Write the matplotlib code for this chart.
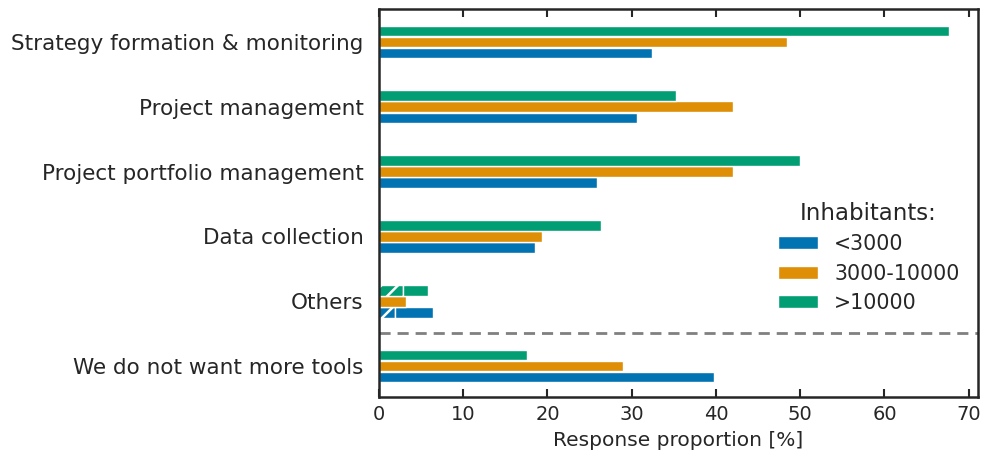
import matplotlib
matplotlib.use("Agg")
import matplotlib.pyplot as plt
import numpy as np

categories = ["Strategy formation & monitoring", "Project management",
              "Project portfolio management", "Data collection", "Others",
              "We do not want more tools"]
groups = ["<3000", "3000-10000", ">10000"]
small = [32.4, 30.6, 25.9, 18.5, 6.4, 39.8]
medium = [48.4, 42.0, 42.0, 19.3, 3.2, 29.0]
large = [67.7, 35.3, 50.0, 26.4, 5.8, 17.6]
# hatched share inside "Others"
others_hatched = [1.9, 0.0, 2.9]

colors = ["#0173b2", "#de8f05", "#029e73"]
text_color = "#262626"

plt.rcParams["font.family"] = ["DejaVu Sans"]
plt.rcParams["hatch.linewidth"] = 1.8

fig = plt.figure(figsize=(9.82, 4.55), dpi=100)
ax = fig.add_axes([379/982, 1-397/455, (978-379)/982, (397-9)/455])

n = len(categories)
ypos = np.arange(n)[::-1].astype(float)
h = 0.165
offsets = [-0.17, 0.0, 0.17]
series = [small, medium, large]
others_idx = categories.index("Others")

for gi, (vals, col, off) in enumerate(zip(series, colors, offsets)):
    for ci, v in enumerate(vals):
        y = ypos[ci] + off
        if ci == others_idx and others_hatched[gi] > 0:
            hv = others_hatched[gi]
            ax.barh(y, hv, height=h, color=col, edgecolor="white", linewidth=1, hatch="//")
            ax.barh(y, v - hv, left=hv, height=h, color=col, edgecolor="white", linewidth=1)
        else:
            ax.barh(y, v, height=h, color=col, edgecolor="white", linewidth=1,
                    label=groups[gi] if ci == 0 else None)

ax.axhline(0.51, color="#808080", linestyle="--", linewidth=2, dashes=(4, 2.5))

ax.set_yticks(ypos)
ax.set_yticklabels(categories)
ax.set_ylim(-0.478, 5.51)
ax.set_xlim(0, 71.1)
ax.set_xticks(np.arange(0, 71, 10))
ax.tick_params(axis="x", direction="in", top=True, length=6, width=1.5,
               labelsize=14, colors=text_color, pad=6)
ax.tick_params(axis="y", length=0, labelsize=15.5, colors=text_color, pad=11)
for s in ax.spines.values():
    s.set_linewidth(1.8)
    s.set_color(text_color)

ax.set_xlabel("Response proportion [%]", fontsize=14.5, color=text_color, labelpad=5)

leg = ax.legend(title="Inhabitants:", loc="center right", bbox_to_anchor=(1.0, 0.36),
                frameon=False, fontsize=14.8, title_fontsize=16.5,
                handlelength=1.95, handleheight=0.6, labelspacing=0.46, handletextpad=0.8)
for t in leg.get_texts():
    t.set_color(text_color)
leg.get_title().set_color(text_color)

fig.savefig("out.png", dpi=100)
